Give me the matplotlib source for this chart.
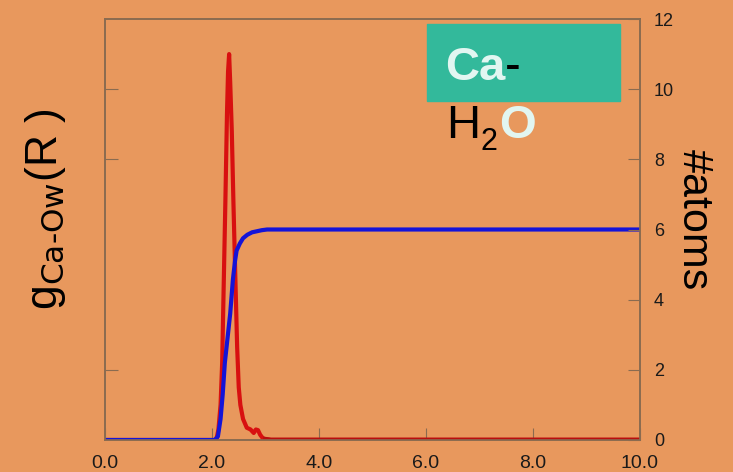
import numpy as np
import matplotlib.pyplot as plt
from matplotlib.patches import Rectangle

plt.rcParams['font.family'] = ['Liberation Sans', 'DejaVu Sans']

# radial distribution function Ca-Ow
r_g = [0.0, 2.0, 2.08, 2.12, 2.16, 2.19, 2.22, 2.25, 2.28, 2.30, 2.32, 2.34,
       2.37, 2.40, 2.43, 2.47, 2.50, 2.53, 2.58, 2.65, 2.72, 2.78, 2.82, 2.86,
       2.90, 2.95, 3.0, 3.1, 10.0]
g_vals = [0, 0, 0, 0.3, 1.0, 2.2, 4.5, 6.8, 9.3, 10.5, 11.0, 10.2,
          8.8, 6.8, 5.0, 2.65, 1.5, 1.0, 0.6, 0.35, 0.3, 0.2, 0.3, 0.28,
          0.15, 0.05, 0.02, 0, 0]

# running coordination number
r_n = [0.0, 2.05, 2.11, 2.16, 2.20, 2.24, 2.29, 2.34, 2.39, 2.43, 2.46,
       2.52, 2.58, 2.66, 2.75, 2.84, 2.93, 3.03, 10.0]
n_vals = [0, 0, 0.1, 0.6, 1.3, 2.2, 2.9, 3.6, 4.56, 5.1, 5.4,
          5.6, 5.75, 5.85, 5.92, 5.95, 5.98, 6.0, 6.0]

x_ticks = [0, 2, 4, 6, 8, 10]
n_ticks = [0, 2, 4, 6, 8, 10, 12]

bg = '#E8985D'
spine = '#8A6B50'

fig = plt.figure(figsize=(7.33, 4.72), dpi=100, facecolor=bg)
ax = fig.add_axes([105 / 733, 1 - 440 / 472, 535 / 733, 421 / 472])
ax.set_facecolor(bg)
ax2 = ax.twinx()

ax.plot(r_g, g_vals, color='#D81010', lw=3, solid_joinstyle='round', zorder=3)
ax.plot(r_g[-3:], g_vals[-3:], color='#B80E0E', lw=3.5, zorder=3)
ax.plot(r_n, n_vals, color='#1414D8', lw=3, solid_joinstyle='round', zorder=4)

ax.set_xlim(0, 10)
ax.set_ylim(0, 12)
ax2.set_ylim(0, 12)

ax.set_xticks(x_ticks)
ax.set_xticklabels(['%.1f' % t for t in x_ticks])
ax.set_yticks([2, 8, 10])
ax.set_yticklabels([])
ax2.set_yticks(n_ticks)

for a in (ax, ax2):
    for s in a.spines.values():
        s.set_color(spine)
        s.set_linewidth(1.2)
ax.tick_params(axis='both', direction='in', length=9, color=spine,
               labelcolor='#1A1A1A')
ax.tick_params(axis='x', labelsize=14, pad=11)
ax2.tick_params(axis='y', direction='in', length=9, color=spine,
                labelsize=13, labelcolor='#1A1A1A', pad=10)

# axis titles
fig.text(45 / 733, 1 - 209 / 472, r'g$_{\mathrm{Ca\text{-}Ow}}$(R )', rotation=90,
         ha='center', va='center', fontsize=32)
fig.text(694 / 733, 1 - 220 / 472, '#atoms', rotation=-90,
         ha='center', va='center', fontsize=31)

# species label
fig.patches.append(Rectangle((427 / 733, 1 - 101 / 472), 193 / 733, 77 / 472,
                             transform=fig.transFigure, color='#33B99B', zorder=5))
light = '#E2F6F1'
fig.text(445 / 733, 1 - 80 / 472, 'Ca', color=light, fontsize=34,
         fontweight='bold', ha='left', va='baseline', zorder=6)
fig.text(505 / 733, 1 - 80 / 472, '-', color='black', fontsize=34,
         ha='left', va='baseline', zorder=6)
fig.text(446 / 733, 1 - 138 / 472, 'H', color='black', fontsize=34,
         ha='left', va='baseline', zorder=6)
fig.text(481 / 733, 1 - 150 / 472, '2', color='black', fontsize=22,
         ha='left', va='baseline', zorder=6)
fig.text(499 / 733, 1 - 138 / 472, 'O', color=light, fontsize=34,
         fontweight='bold', ha='left', va='baseline', zorder=6)

fig.savefig('out.png', dpi=100, facecolor=bg)
